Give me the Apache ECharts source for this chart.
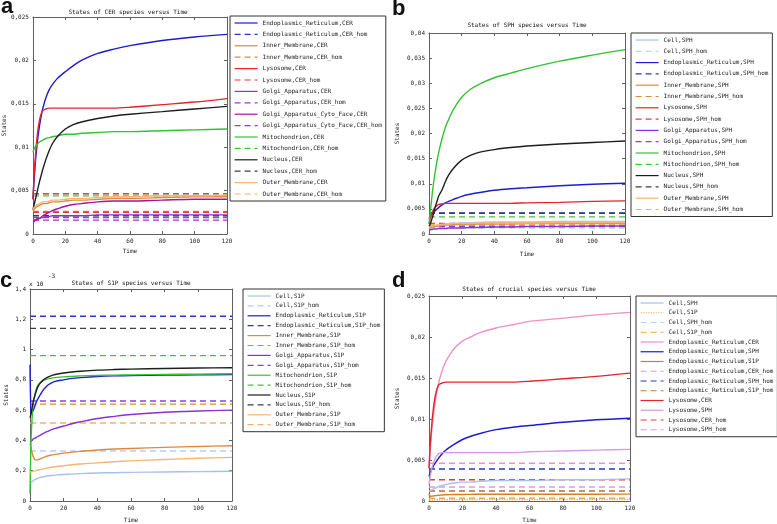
<!DOCTYPE html>
<html><head><meta charset="utf-8">
<script src="https://cdn.jsdelivr.net/npm/echarts@6/dist/echarts.min.js"></script>
<style>html,body{margin:0;padding:0;background:#fff}#c{width:777px;height:524px}</style>
</head><body><div id="c"></div>
<script>
// ---- shared time samples ----
const T = [0, 0.5, 1, 2, 3, 4, 5, 6, 8, 10, 12, 15, 20, 25, 30, 40, 50, 60, 80, 100, 120];

// ---- panel a: CER species ----
const a_ER      = [0.0040,0.0056,0.0070,0.0093,0.0110,0.0124,0.0135,0.0144,0.0157,0.0166,0.0172,0.0179,0.0187,0.0194,0.0200,0.0208,0.0213,0.0217,0.0223,0.0227,0.0230];
const a_Inner   = [0.0027,0.0028,0.0029,0.0031,0.0032,0.0033,0.0034,0.0035,0.0035,0.0036,0.0037,0.0037,0.0038,0.0039,0.0039,0.0040,0.0041,0.0041,0.0042,0.0043,0.0043];
const a_Lyso    = [0.0040,0.0060,0.0076,0.0101,0.0119,0.0131,0.0138,0.0142,0.0144,0.0145,0.0145,0.0145,0.0145,0.0145,0.0145,0.0145,0.0145,0.0146,0.0149,0.0152,0.0156];
const a_Golgi   = [0.0015,0.0015,0.0016,0.0017,0.0018,0.0018,0.0019,0.0019,0.0020,0.0020,0.0021,0.0021,0.0021,0.0021,0.0021,0.0022,0.0022,0.0022,0.0022,0.0022,0.0022];
const a_Cyto    = [0.0014,0.0014,0.0015,0.0016,0.0017,0.0018,0.0019,0.0021,0.0023,0.0025,0.0027,0.0029,0.0032,0.0034,0.0035,0.0037,0.0038,0.0038,0.0039,0.0040,0.0040];
const a_Mito    = [0.0094,0.0097,0.0099,0.0102,0.0104,0.0106,0.0107,0.0108,0.0110,0.0111,0.0112,0.0113,0.0115,0.0115,0.0116,0.0117,0.0118,0.0118,0.0119,0.0120,0.0121];
const a_Nucleus = [0.0028,0.0032,0.0036,0.0044,0.0052,0.0060,0.0067,0.0074,0.0086,0.0096,0.0104,0.0112,0.0121,0.0126,0.0129,0.0133,0.0136,0.0138,0.0141,0.0144,0.0147];
const a_Outer   = [0.0028,0.0030,0.0031,0.0033,0.0034,0.0035,0.0036,0.0037,0.0037,0.0038,0.0039,0.0039,0.0040,0.0041,0.0041,0.0042,0.0043,0.0043,0.0044,0.0044,0.0045];
const a_hom = {ER:0.0046, Inner:0.0026, Lyso:0.0025, Golgi:0.0019, Cyto:0.0016, Mito:0.0044, Nucleus:0.0021, Outer:0.0045};

// ---- panel b: SPH species ----
const b_Cell    = [0.0010,0.0011,0.0012,0.0014,0.0015,0.0016,0.0017,0.0017,0.0018,0.0019,0.0020,0.0021,0.0022,0.0022,0.0023,0.0024,0.0024,0.0024,0.0025,0.0025,0.0025];
const b_ER      = [0.0030,0.0033,0.0036,0.0040,0.0044,0.0047,0.0050,0.0053,0.0058,0.0062,0.0065,0.0069,0.0075,0.0079,0.0082,0.0087,0.0090,0.0092,0.0096,0.0099,0.0101];
const b_Inner   = [0.0012,0.0012,0.0013,0.0014,0.0015,0.0015,0.0016,0.0016,0.0017,0.0018,0.0018,0.0019,0.0019,0.0019,0.0020,0.0020,0.0020,0.0021,0.0021,0.0021,0.0021];
const b_Lyso    = [0.0020,0.0027,0.0033,0.0043,0.0050,0.0054,0.0057,0.0059,0.0060,0.0061,0.0061,0.0061,0.0061,0.0061,0.0061,0.0061,0.0061,0.0062,0.0063,0.0065,0.0066];
const b_Golgi   = [0.0008,0.0008,0.0009,0.0009,0.0010,0.0010,0.0010,0.0011,0.0011,0.0011,0.0012,0.0012,0.0012,0.0013,0.0013,0.0014,0.0014,0.0015,0.0015,0.0016,0.0016];
const b_Mito    = [0.0020,0.0035,0.0050,0.0081,0.0106,0.0128,0.0147,0.0163,0.0190,0.0212,0.0228,0.0248,0.0272,0.0287,0.0297,0.0311,0.0320,0.0329,0.0344,0.0356,0.0367];
const b_Nucleus = [0.0015,0.0018,0.0022,0.0032,0.0044,0.0056,0.0066,0.0076,0.0088,0.0104,0.0117,0.0131,0.0147,0.0156,0.0162,0.0168,0.0172,0.0175,0.0179,0.0182,0.0185];
const b_Outer   = [0.0014,0.0014,0.0015,0.0016,0.0017,0.0017,0.0018,0.0018,0.0019,0.0020,0.0020,0.0021,0.0021,0.0021,0.0022,0.0022,0.0022,0.0022,0.0023,0.0023,0.0023];
const b_hom = {Cell:0.0012, ER:0.0042, Inner:0.0018, Lyso:0.0021, Golgi:0.0015, Mito:0.0034, Nucleus:0.0041, Outer:0.0019};

// ---- panel c: S1P species (values in units of 1e-3) ----
const c_Cell    = [0.115,0.12,0.125,0.135,0.142,0.147,0.151,0.155,0.160,0.165,0.168,0.171,0.175,0.178,0.181,0.185,0.187,0.189,0.192,0.194,0.196];
const c_ER      = [0.90,0.60,0.58,0.60,0.63,0.66,0.68,0.70,0.735,0.76,0.775,0.79,0.80,0.81,0.815,0.822,0.826,0.828,0.831,0.833,0.835];
const c_Inner   = [0.38,0.36,0.33,0.29,0.272,0.270,0.274,0.278,0.287,0.296,0.302,0.308,0.316,0.323,0.328,0.337,0.343,0.347,0.354,0.360,0.365];
const c_Golgi   = [0.39,0.395,0.40,0.41,0.415,0.422,0.428,0.434,0.447,0.458,0.467,0.48,0.495,0.51,0.523,0.545,0.559,0.571,0.586,0.594,0.600];
const c_Mito    = [0.05,0.35,0.50,0.65,0.71,0.75,0.77,0.782,0.797,0.805,0.81,0.815,0.82,0.823,0.826,0.829,0.831,0.833,0.836,0.838,0.840];
const c_Nucleus = [0.55,0.57,0.60,0.66,0.70,0.735,0.76,0.777,0.80,0.815,0.825,0.835,0.845,0.852,0.857,0.864,0.868,0.871,0.875,0.878,0.880];
const c_Outer   = [0.19,0.193,0.195,0.197,0.199,0.202,0.205,0.207,0.212,0.217,0.221,0.226,0.233,0.239,0.244,0.252,0.259,0.265,0.274,0.282,0.288];
const c_hom = {Cell:0.33, ER:1.22, Inner:0.64, Golgi:0.66, Mito:0.96, Nucleus:1.14, Outer:0.515};

// ---- panel d: crucial species ----
const d_CellSPH  = [0.0012,0.0012,0.0013,0.0014,0.0015,0.0016,0.0017,0.0018,0.0019,0.0020,0.0021,0.0022,0.0023,0.0023,0.0024,0.0025,0.0025,0.0025,0.0026,0.0026,0.0027];
const d_CellS1P  = [0.00012,0.00012,0.00013,0.00014,0.00014,0.00015,0.00015,0.00016,0.00016,0.00017,0.00017,0.00017,0.00018,0.00018,0.00018,0.00019,0.00019,0.00019,0.00019,0.00019,0.00020];
const d_ERCER    = [0.0040,0.0056,0.0070,0.0093,0.0110,0.0124,0.0136,0.0146,0.0160,0.0170,0.0177,0.0186,0.0195,0.0200,0.0205,0.0211,0.0215,0.0219,0.0223,0.0227,0.0230];
const d_ERSPH    = [0.0030,0.0033,0.0036,0.0040,0.0044,0.0047,0.0050,0.0053,0.0058,0.0062,0.0065,0.0069,0.0075,0.0079,0.0082,0.0087,0.0090,0.0092,0.0096,0.0099,0.0101];
const d_ERS1P    = [0.0009,0.0006,0.00058,0.0006,0.00063,0.00066,0.00068,0.0007,0.00074,0.00076,0.00078,0.00079,0.0008,0.00081,0.00082,0.00082,0.00083,0.00083,0.00083,0.00083,0.00084];
const d_LysoCER  = [0.0040,0.0060,0.0076,0.0101,0.0119,0.0131,0.0138,0.0142,0.0144,0.0145,0.0145,0.0145,0.0145,0.0145,0.0145,0.0145,0.0145,0.0146,0.0149,0.0152,0.0156];
const d_LysoSPH  = [0.0020,0.0027,0.0033,0.0042,0.0048,0.0053,0.0056,0.0058,0.0059,0.0059,0.0059,0.0059,0.0059,0.0059,0.0059,0.0059,0.0059,0.0060,0.0061,0.0062,0.0063];
const d_hom = {CellSPH:0.0012, CellS1P:0.00033, ERCER:0.0046, ERSPH:0.0039, ERS1P:0.00122, LysoCER:0.0026, LysoSPH:0.0017};

// ---- axis tick settings ----
const yMax = [0.025, 0.04, 1.4, 0.025];
const yStep = [0.005, 0.005, 0.2, 0.005];
const xMax = 120, xStep = 20;

const FONT = 'DejaVu Sans Mono';
const DASH = [6, 4];
const series = [];
const legends = [[], [], [], []];
const ZW = '\u200b';

function solid(p, name, vals, color, opt) {
  opt = opt || {};
  series.push({
    type: 'line', name: name, xAxisIndex: p, yAxisIndex: p,
    data: T.map((t, i) => [t, vals[i]]), symbol: 'none', smooth: 0.3,
    lineStyle: { color: color, width: opt.width || 1.4, type: opt.type || 'solid' },
    itemStyle: { color: color }, z: opt.z || 3
  });
  legends[p].push(name);
}
function hom(p, name, v, color) {
  series.push({
    type: 'line', name: name, xAxisIndex: p, yAxisIndex: p,
    data: [[0, v], [xMax, v]], symbol: 'none',
    lineStyle: { color: color, width: 1.4, type: DASH }, itemStyle: { color: color }, z: 2
  });
  legends[p].push(name);
}

const C = {
  blue:'#1c1cd2', blueD:'#2a36c8', orange:'#de8a3e', orangeD:'#e08838', red:'#e6232b', redD:'#e8383e',
  purple:'#8a30d4', purpleD:'#8c3ee2', mag:'#a8129c', magD:'#b232aa', green:'#34c234', greenD:'#3cc83c',
  black:'#1e1e1e', blackD:'#3e3e3e', lorange:'#f6b476', lorangeD:'#f6b06c',
  cell:'#a8c0f0', cellD:'#aee6d6', cellDc:'#b8ccf4', pink:'#f090c8', lav:'#d29ce8', brown:'#c47a34'
};

// panel a
solid(0,'Endoplasmic_Reticulum,CER', a_ER, C.blue);
hom(0,'Endoplasmic_Reticulum,CER_hom', a_hom.ER, C.blueD);
solid(0,'Inner_Membrane,CER', a_Inner, C.orange);
hom(0,'Inner_Membrane,CER_hom', a_hom.Inner, C.orangeD);
solid(0,'Lysosome,CER', a_Lyso, C.red);
hom(0,'Lysosome,CER_hom', a_hom.Lyso, C.redD);
solid(0,'Golgi_Apparatus,CER', a_Golgi, C.purple);
hom(0,'Golgi_Apparatus,CER_hom', a_hom.Golgi, C.purpleD);
solid(0,'Golgi_Apparatus_Cyto_Face,CER', a_Cyto, C.mag);
hom(0,'Golgi_Apparatus_Cyto_Face,CER_hom', a_hom.Cyto, C.magD);
solid(0,'Mitochondrion,CER', a_Mito, C.green);
hom(0,'Mitochondrion,CER_hom', a_hom.Mito, C.greenD);
solid(0,'Nucleus,CER', a_Nucleus, C.black);
hom(0,'Nucleus,CER_hom', a_hom.Nucleus, C.blackD);
solid(0,'Outer_Membrane,CER', a_Outer, C.lorange);
hom(0,'Outer_Membrane,CER_hom', a_hom.Outer, C.lorangeD);

// panel b
solid(1,'Cell,SPH', b_Cell, C.cell);
hom(1,'Cell,SPH_hom', b_hom.Cell, C.cellD);
solid(1,'Endoplasmic_Reticulum,SPH', b_ER, C.blue);
hom(1,'Endoplasmic_Reticulum,SPH_hom', b_hom.ER, C.blueD);
solid(1,'Inner_Membrane,SPH', b_Inner, C.orange);
hom(1,'Inner_Membrane,SPH_hom', b_hom.Inner, C.orangeD);
solid(1,'Lysosome,SPH', b_Lyso, C.red);
hom(1,'Lysosome,SPH_hom', b_hom.Lyso, C.redD);
solid(1,'Golgi_Apparatus,SPH', b_Golgi, C.purple);
hom(1,'Golgi_Apparatus,SPH_hom', b_hom.Golgi, C.purpleD);
solid(1,'Mitochondrion,SPH', b_Mito, C.green);
hom(1,'Mitochondrion,SPH_hom', b_hom.Mito, C.greenD);
solid(1,'Nucleus,SPH', b_Nucleus, C.black);
hom(1,'Nucleus,SPH_hom', b_hom.Nucleus, C.blackD);
solid(1,'Outer_Membrane,SPH', b_Outer, C.lorange);
hom(1,'Outer_Membrane,SPH_hom', b_hom.Outer, C.lorangeD);

// panel c
solid(2,'Cell,S1P', c_Cell, C.cell);
hom(2,'Cell,S1P_hom', c_hom.Cell, C.cellDc);
solid(2,'Endoplasmic_Reticulum,S1P', c_ER, C.blue);
hom(2,'Endoplasmic_Reticulum,S1P_hom', c_hom.ER, C.blueD);
solid(2,'Inner_Membrane,S1P', c_Inner, C.orange);
hom(2,'Inner_Membrane,S1P_hom', c_hom.Inner, C.orangeD);
solid(2,'Golgi_Apparatus,S1P', c_Golgi, C.purple);
hom(2,'Golgi_Apparatus,S1P_hom', c_hom.Golgi, C.purpleD);
solid(2,'Mitochondrion,S1P', c_Mito, C.green);
hom(2,'Mitochondrion,S1P_hom', c_hom.Mito, C.greenD);
solid(2,'Nucleus,S1P', c_Nucleus, C.black);
hom(2,'Nucleus,S1P_hom', c_hom.Nucleus, C.blackD);
solid(2,'Outer_Membrane,S1P', c_Outer, C.lorange);
hom(2,'Outer_Membrane,S1P_hom', c_hom.Outer, C.lorangeD);

// panel d
solid(3,'Cell,SPH'+ZW, d_CellSPH, C.cell);
solid(3,'Cell,S1P'+ZW, d_CellS1P, C.lorange, {type:[1.5,1], width:1.6});
hom(3,'Cell,SPH_hom'+ZW, d_hom.CellSPH, C.cellDc);
hom(3,'Cell,S1P_hom'+ZW, d_hom.CellS1P, '#f0a646');
solid(3,'Endoplasmic_Reticulum,CER'+ZW, d_ERCER, C.pink);
solid(3,'Endoplasmic_Reticulum,SPH'+ZW, d_ERSPH, C.blue);
solid(3,'Endoplasmic_Reticulum,S1P'+ZW, d_ERS1P, '#d67c22');
hom(3,'Endoplasmic_Reticulum,CER_hom'+ZW, d_hom.ERCER, C.pink);
hom(3,'Endoplasmic_Reticulum,SPH_hom'+ZW, d_hom.ERSPH, C.blueD);
hom(3,'Endoplasmic_Reticulum,S1P_hom'+ZW, d_hom.ERS1P, C.brown);
solid(3,'Lysosome,CER'+ZW, d_LysoCER, C.red);
solid(3,'Lysosome,SPH'+ZW, d_LysoSPH, C.lav);
hom(3,'Lysosome,CER_hom'+ZW, d_hom.LysoCER, C.redD);
hom(3,'Lysosome,SPH_hom'+ZW, d_hom.LysoSPH, C.lav);

// ---- layout ----
const grids = [
  {left:30, top:17, width:197, height:217},
  {left:429, top:33, width:196, height:201},
  {left:30, top:289, width:202, height:215},
  {left:429, top:296, width:201, height:208}
];
const xNameGap = [14, 17, 16, 16];
const yNameGap = [25, 29, 21, 29];
const AX = '#606060';
function fmt(v){ return String(Math.round(v*10000)/10000).replace('.', ','); }
const xAxes = [], yAxes = [];
for (let p = 0; p < 4; p++) {
  xAxes.push({type:'value', gridIndex:p, min:0, max:xMax, interval:xStep, position:'bottom',
    name:'Time', nameLocation:'middle', nameGap:xNameGap[p], nameTextStyle:{fontFamily:FONT, fontSize:6, color:'#222'},
    axisLine:{onZero:false, lineStyle:{color:AX, width:1}}, axisTick:{inside:true, length:3, lineStyle:{color:AX}},
    axisLabel:{fontFamily:FONT, fontSize:6, color:'#222', margin:4}, splitLine:{show:false}});
  yAxes.push({type:'value', gridIndex:p, min:0, max:yMax[p], interval:yStep[p], position:'left',
    name:'States', nameLocation:'middle', nameGap:yNameGap[p], nameTextStyle:{fontFamily:FONT, fontSize:6, color:'#222'},
    axisLine:{show:true, onZero:false, lineStyle:{color:AX, width:1}}, axisTick:{show:true, inside:true, length:3, lineStyle:{color:AX}},
    axisLabel:{fontFamily:FONT, fontSize:6, color:'#222', margin:4, formatter:fmt}, splitLine:{show:false}});
}
for (let p = 0; p < 4; p++) {
  xAxes.push({type:'value', gridIndex:p, min:0, max:xMax, interval:xStep, position:'top',
    axisLine:{onZero:false, lineStyle:{color:AX, width:1}}, axisTick:{inside:true, length:3, lineStyle:{color:AX}},
    axisLabel:{show:false}, splitLine:{show:false}});
  yAxes.push({type:'value', gridIndex:p, min:0, max:yMax[p], interval:yStep[p], position:'right',
    axisLine:{show:true, onZero:false, lineStyle:{color:AX, width:1}}, axisTick:{show:true, inside:true, length:3, lineStyle:{color:AX}},
    axisLabel:{show:false}, splitLine:{show:false}});
}

const legendPos = [
  {left:230, top:16, gap:3.4},
  {left:631, top:33, gap:3.3},
  {left:243, top:289, gap:1.9},
  {left:636, top:296, gap:1.75}
];
const legendOpts = legendPos.map((lp, p) => ({
  orient:'vertical', left:lp.left, top:lp.top, padding:[3,4,3,4], itemWidth:23, itemHeight:8, itemGap:lp.gap,
  borderColor:'#333', borderWidth:1, backgroundColor:'#fff', selectedMode:false,
  itemStyle:{opacity:0}, lineStyle:{width:1.2},
  textStyle:{fontFamily:FONT, fontSize:6, color:'#222', lineHeight:8},
  data: legends[p]
}));

function txt(x, y, s, font, align) {
  return {type:'text', x:x, y:y, z:100, style:{text:s, font:font, fill:'#111', textAlign:align||'center', textVerticalAlign:'middle'}};
}
const TF = '6px "DejaVu Sans Mono"';
const LF = 'bold 22px "Liberation Sans"';
const graphic = [
  txt(128, 12, 'States of CER species versus Time', TF),
  txt(527, 25, 'States of SPH species versus Time', TF),
  txt(131, 283, 'States of S1P species versus Time', TF),
  txt(529, 289, 'States of crucial species versus Time', TF),
  txt(1, 7, 'a', LF, 'left'),
  txt(392, 9, 'b', LF, 'left'),
  txt(0, 281, 'c', LF, 'left'),
  txt(392, 281, 'd', LF, 'left'),
  txt(29, 284, 'x 10', TF, 'left'),
  txt(48, 276, '-3', TF, 'left')
];

const chart = echarts.init(document.getElementById('c'), null, {renderer:'canvas'});
chart.setOption({
  animation:false, backgroundColor:'#fff',
  grid: grids, xAxis: xAxes, yAxis: yAxes, legend: legendOpts, series: series, graphic: graphic
});
</script></body></html>
